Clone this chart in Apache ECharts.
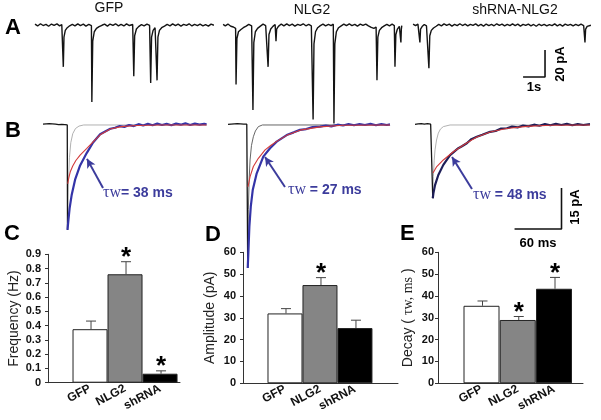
<!DOCTYPE html>
<html><head><meta charset="utf-8">
<script src="https://cdn.jsdelivr.net/npm/echarts@6.0.0/dist/echarts.min.js"></script>
<style>html,body{margin:0;padding:0;background:#fff}#c{width:601px;height:420px}</style>
</head><body><div id="c"></div>
<script>
// ---------- DATA ----------
// Panel A: spontaneous current traces, [time (s), current (pA)]
const aTitles = ['GFP', 'NLG2', 'shRNA-NLG2'];
const traceGFP = [[0.00,0.6],[0.12,-0.7],[0.25,0.9],[0.37,-0.4],[0.50,0.5],[0.62,-0.9],[0.75,0.7],[0.87,-0.3],[1.00,0.8],[1.12,-0.6],[1.22,0.3],
 [1.27,-0.8],[1.29,-31],[1.32,-9],[1.38,-4],[1.47,-2],[1.58,-0.6],[1.70,0.5],[1.82,-0.7],[1.95,0.8],[2.07,-0.4],[2.20,0.6],[2.32,-0.8],[2.45,0.4],[2.57,-0.5],
 [2.59,-57],[2.63,-12],[2.70,-5],[2.80,-2.5],[2.92,-1.2],[3.05,-0.2],[3.17,0.6],[3.30,-0.8],[3.42,0.7],[3.55,-0.3],[3.67,0.9],[3.80,-0.6],[3.92,0.5],[4.05,-0.7],[4.17,0.8],[4.30,-0.4],[4.45,0.4],
 [4.50,-38],[4.54,-8],[4.62,-3],[4.72,-1.2],[4.85,0.3],[4.97,-0.6],[5.10,0.7],[5.22,-0.3],
 [5.27,-43],[5.31,-9],[5.38,-4],[5.47,-2],[5.53,-1.5],
 [5.56,-41],[5.60,-9],[5.67,-4],[5.77,-2],[5.90,-0.8],[6.02,0.4],[6.15,-0.6],[6.27,0.8],[6.40,-0.5],[6.52,0.6],[6.65,-0.8],[6.77,0.4],[6.90,-0.3],[7.02,0.9],[7.15,-0.7],[7.27,0.5],[7.40,-0.4],[7.52,0.7],[7.65,-0.6],[7.77,0.3],[7.90,-0.8],[8.02,0.6],[8.15,-0.2]];
const traceNLG2 = [[0.05,0.5],[0.15,-0.6],[0.27,0.7],[0.40,-0.9],[0.52,-1.5],[0.62,-2.5],
 [0.64,-44],[0.68,-10],[0.75,-5],[0.85,-3.5],[0.97,-2],[1.10,-0.8],[1.22,0.5],[1.35,-0.6],
 [1.41,-63],[1.45,-13],[1.52,-5],[1.62,-2.5],[1.75,-0.8],[1.87,0.6],[1.99,-0.5],
 [2.10,-31],[2.14,-7],[2.22,-3],[2.32,-1],[2.42,0.4],
 [2.46,-12],[2.49,-3],[2.57,-1],[2.70,0.7],[2.82,-0.6],[2.95,0.8],[3.07,-0.4],[3.20,0.6],[3.32,-0.8],[3.45,0.5],[3.57,-0.3],[3.70,0.9],[3.82,-0.6],[3.95,0.4],[4.07,-0.7],
 [4.15,-70],[4.19,-14],[4.26,-5],[4.36,-2],[4.48,-0.5],[4.60,0.7],[4.72,-0.6],[4.85,0.5],[4.97,-0.4],[5.07,0.6],
 [5.10,-73],[5.14,-14],[5.21,-5],[5.31,-2],[5.43,-0.6],[5.55,0.7],[5.67,-0.5],[5.80,0.8],[5.92,-0.4],[6.05,0.5],[6.17,-0.8],[6.30,0.6],[6.42,-0.3],[6.55,0.7],[6.67,-0.6],[6.80,-1.8],[6.92,-2.5],[7.02,-1.5],
 [7.06,-41],[7.10,-9],[7.17,-4],[7.27,-2],[7.39,-0.7],[7.51,0.5],[7.63,-0.6],[7.75,0.6],[7.85,-0.4],
 [7.88,-31],[7.92,-7],[7.99,-3],[8.08,-1],[8.13,-0.3],
 [8.15,-13],[8.17,-3],[8.19,-0.5]];
const traceShRNA = [[0.05,0.6],[0.16,-0.5],[0.27,0.7],[0.34,-0.4],[0.36,-13],[0.39,-3],[0.46,-1.2],[0.56,0.4],[0.66,-0.7],[0.74,-1.6],
 [0.77,-32],[0.81,-8],[0.88,-4],[0.98,-2.2],[1.10,-0.9],[1.22,0.5],[1.34,-0.6],[1.46,0.8],[1.58,-0.3],[1.70,0.6],[1.82,-0.8],[1.94,0.4],[2.06,-0.5],[2.18,0.9],[2.30,-0.4],[2.42,0.6],[2.54,-0.7],[2.66,0.5],[2.78,-0.3],[2.90,0.8],[3.02,-0.6],[3.14,0.4],[3.26,-0.8],[3.38,0.7],[3.50,-0.4],[3.62,0.5],[3.74,-0.6],[3.86,0.9],[3.98,-0.3],[4.10,0.6],[4.22,-0.7],[4.34,0.4],[4.46,-0.5],[4.58,0.8],[4.70,-0.4],[4.82,0.6],[4.94,-0.8],[5.06,0.5],[5.18,-0.3],[5.30,0.7],[5.42,-0.6],[5.54,0.4],[5.66,-0.9],[5.78,0.6],[5.90,-0.4],[6.02,0.5],[6.14,-0.7],[6.26,0.3],[6.38,-0.5],[6.50,0.8],[6.62,-0.6],[6.74,0.4],[6.86,-0.8],[6.98,0.6],[7.10,-0.3],[7.22,0.5],[7.34,-0.7],[7.46,0.4],[7.58,-0.5],[7.70,0.6],[7.82,-0.4],[7.86,0.2],
 [7.88,-13],[7.91,-3],[7.98,-1],[8.06,0.3],[8.15,-0.2]];
const scaleA = [1, 20];          // 1 s, 20 pA

// Panel B: averaged events, [time (ms), current (pA)]
const tauText = ['τw= 38 ms', 'τw = 27 ms', 'τw = 48 ms'];
const preGFP = [[0,0.3],[2,-0.3],[4,0.4],[6,-0.1],[8,0.5],[10,0],[12,0.4],[14,-0.2],[16,0.3],[18,0.6],[20,0.1],[22,0.5],[24,0.2],[26,0.6],[28,0.1],[30,0.3],[31,0],[31.3,-38.4]];
const avgGFP = [[31.3,-38.4],[32.4,-35],[34,-30.5],[36.7,-25.5],[41,-20],[47.4,-14.8],[56,-10.2],[64,-6.4],[73,-3.4],[80,-2.3],[86,-1.4],[92,-1.0],[98,-0.4],[104,-0.7],[110,0],[116,-0.4],[122,0.3],[128,-0.2],[134,0.4],[140,-0.1],[146,0.5],[152,0],[158,0.4],[164,-0.1],[170,0.5],[176,0.1],[182,0.6],[188,0],[194,0.5],[200,0.1],[206,0.4],[209,0.2]];
const fitGFP = [[31.6,-21.5],[33,-19.3],[35,-17],[38,-15],[42,-13],[47.4,-11],[56,-8.6],[64,-6.2],[73,-3.6],[86,-1.5],[100,-0.6],[120,-0.2],[150,0],[209,0]];
const fastGFP = [[31.3,-38],[31.8,-30],[32.6,-20],[33.8,-12],[35.5,-6.5],[38,-3.2],[41.5,-1.3],[46,-0.4],[52,0],[209,0]];
const preNLG2 = [[0,0.2],[2,-0.2],[4,0.3],[6,-0.1],[8,0.4],[10,0.1],[12,0.5],[14,0],[16,0.4],[18,-0.1],[20,0.3],[22,0.1],[24,0.3],[25,0],[25.2,-52.3]];
const avgNLG2 = [[25.2,-52.3],[26,-46.8],[27.3,-37.2],[29.1,-29.9],[31.6,-23.8],[36.7,-17.7],[45.1,-11.6],[53.7,-8.5],[62.2,-6.1],[75,-3.7],[84,-2.7],[92,-1.8],[100,-1.5],[108,-0.8],[117.6,-0.6],[125,-0.2],[132,-0.5],[140,0.1],[147,-0.2],[154,0.3],[161,-0.1],[168,0.3],[175,0],[182,0.4],[189,-0.1],[196,0.3],[203,0],[207,0.2]];
const fitNLG2 = [[25.6,-22.6],[28.2,-18.9],[32.4,-15.2],[38.8,-12.2],[47.4,-9.1],[55,-7.4],[62.2,-6],[75,-3.8],[92,-1.9],[117.6,-0.7],[147,-0.1],[207,0]];
const fastNLG2 = [[25.2,-50],[26,-31],[27,-20],[28.2,-12.8],[30,-7.5],[32.4,-4.3],[35,-2.2],[38.8,-0.6],[44,0],[207,0]];
const preShRNA = [[0,0.2],[2,-0.3],[4,0.4],[6,0],[8,0.5],[10,-0.1],[12,0.3],[14,0.1],[16,0.5],[18,-0.1],[20,0.3],[22,0],[22.7,-26.8]];
const avgShRNA = [[22.7,-26.8],[23.5,-25],[25.6,-22],[29.8,-18.3],[36.2,-14.6],[44.8,-11],[55.4,-8.5],[60,-7.8],[66.2,-6.7],[72,-5.2],[79,-4.3],[86,-3.6],[96,-2.5],[103,-2.2],[110,-1.3],[117.4,-1.2],[124,-0.6],[131,-0.9],[138,-0.2],[145,-0.5],[152,0.1],[159,-0.3],[166,0.3],[173,-0.1],[180,0.4],[187,0],[194,0.4],[201,-0.1],[208,0.3],[215,0],[223.6,0.3]];
const fitShRNA = [[23,-17.6],[23.5,-17.1],[27.8,-15.2],[36.2,-12.8],[49,-9.8],[66,-6.6],[79,-4.4],[96,-2.6],[117,-1.3],[143,-0.5],[173,-0.1],[223.6,0]];
const fastShRNA = [[22.7,-26],[23.5,-18.9],[24.5,-13],[25.6,-9.1],[27.5,-5.5],[29.8,-3],[32.5,-1.5],[36.2,-0.6],[44.8,0],[223.6,0]];
const scaleB = [60, 15];         // 60 ms, 15 pA

// Panels C-E: bar charts
const barCats = ['GFP', 'NLG2', 'shRNA'];
const freqMean = [0.375, 0.76, 0.063];
const freqErr  = [0.057, 0.088, 0.02];
const ampMean  = [32, 45, 25.3];
const ampErr   = [2.2, 3.4, 3.6];
const decayMean = [35.5, 29, 43.3];
const decayErr  = [2.2, 1.6, 5.2];
const freqStar  = [false, true, true];
const ampStar   = [false, true, false];
const decayStar = [false, true, true];
const freqTicks = ['0','0.1','0.2','0.3','0.4','0.5','0.6','0.7','0.8','0.9'];
const ampTicks = ['0','10','20','30','40','50','60'];
const decayTicks = ['0','10','20','30','40','50','60'];

// ---------- CHART ----------
const SANS = '"Liberation Sans", Arial, sans-serif';
const SERIF = '"Liberation Serif", "Times New Roman", serif';
const chart = echarts.init(document.getElementById('c'), null, {renderer: 'canvas', width: 601, height: 420});

const grids = [], xAxes = [], yAxes = [], series = [];
function hiddenGrid(left, top, width, height, xr, yr) {
  const i = grids.length;
  grids.push({left, top, width, height});
  xAxes.push({gridIndex: i, type: 'value', min: xr[0], max: xr[1], show: false});
  yAxes.push({gridIndex: i, type: 'value', min: yr[0], max: yr[1], show: false});
  return i;
}
function line(gi, data, color, width, extra) {
  return Object.assign({type: 'line', xAxisIndex: gi, yAxisIndex: gi, data, showSymbol: false, symbol: 'none',
    lineStyle: {color, width}, silent: true, animation: false, z: 2}, extra || {});
}

// Panel A
const aTraces = [traceGFP, traceNLG2, traceShRNA];
const aLefts = [35, 222, 412];
let lastA = 0;
aTraces.forEach((tr, k) => {
  const gi = hiddenGrid(aLefts[k], 11.5, 180, 121.5, [0, 8.2], [-80, 10]);
  series.push(line(gi, tr, '#141414', 1.4));
  lastA = gi;
});
const sbAx = 6.06, sbAy = -38.5;
series.push(line(lastA, [[sbAx - scaleA[0], sbAy], [sbAx, sbAy], [sbAx, sbAy + scaleA[1]]], '#111', 1.6));

// Panel B
const bLefts = [43, 228, 415];
const bSets = [
  {pre: preGFP, avg: avgGFP, fit: fitGFP, fast: fastGFP, avgColor: '#3434a8', fastColor: '#a8a8a8', arrow: [[76.7, -23.05], [56.2, -12.4]]},
  {pre: preNLG2, avg: avgNLG2, fit: fitNLG2, fast: fastNLG2, avgColor: '#3434a8', fastColor: '#555', arrow: [[72.8, -22.7], [47.3, -11.7]]},
  {pre: preShRNA, avg: avgShRNA, fit: fitShRNA, fast: fastShRNA, avgColor: '#1e1e58', fastColor: '#a8a8a8', arrow: [[72.8, -23.4], [47.3, -11.7]]}
];
let lastB = 0;
bSets.forEach((s, k) => {
  const gi = hiddenGrid(bLefts[k], 111.3, 180, 177.7, [0, 230], [-60, 5]);
  series.push(line(gi, s.fast, s.fastColor, 0.9));
  series.push(line(gi, s.pre, '#151515', 1.3));
  series.push(line(gi, s.avg, s.avgColor, 2.2, {z: 3}));
  series.push(line(gi, s.fit, '#d23a3a', 1.1, {z: 4, markLine: {
    silent: true, animation: false, symbol: ['none', 'arrow'], symbolSize: [7, 9],
    lineStyle: {color: '#3c3c9c', width: 2, type: 'solid'}, label: {show: false},
    data: [[{coord: s.arrow[0]}, {coord: s.arrow[1]}]]
  }}));
  lastB = gi;
});
const sbBx = 187.2, sbBy = -38.05;
series.push(line(lastB, [[sbBx - scaleB[0], sbBy], [sbBx, sbBy], [sbBx, sbBy + scaleB[1]]], '#111', 1.6));

// Panels C-E
const panels = [
  {left: 48, width: 132, xmax: 2.57, ymax: 0.9, interval: 0.1, ticks: freqTicks, mean: freqMean, err: freqErr, star: freqStar,
   name: 'Frequency (Hz)', nameGap: 27, margin: 7, barW: 35, top: 254.3, bottom: 382.7},
  {left: 243, width: 155, xmax: 3.23, ymax: 60, interval: 10, ticks: ampTicks, mean: ampMean, err: ampErr, star: ampStar,
   name: 'Amplitude (pA)', nameGap: 26, margin: 7, barW: 35, top: 252.3, bottom: 383.3},
  {left: 438, width: 145, xmax: 2.8, ymax: 60, interval: 10, ticks: decayTicks, mean: decayMean, err: decayErr, star: decayStar,
   name: '{a|Decay ( }{b|τw, ms}{a| )}', nameGap: 23, margin: 4, barW: 36, top: 252.3, bottom: 383.3}
];
const fills = ['#ffffff', '#858585', '#000000'];
panels.forEach((p) => {
  const gi = grids.length;
  grids.push({left: p.left, top: p.top, width: p.width, height: p.bottom - p.top});
  xAxes.push({gridIndex: gi, type: 'value', min: -1.2, max: p.xmax,
    axisLine: {show: true, onZero: false, lineStyle: {color: '#333', width: 1}},
    axisTick: {show: false}, splitLine: {show: false},
    axisLabel: {customValues: [0, 1, 2], formatter: (v) => barCats[Math.round(v)] || '', rotate: 28,
      fontWeight: 'bold', fontSize: 12, color: '#111', fontFamily: SANS, margin: 5}});
  yAxes.push({gridIndex: gi, type: 'value', min: 0, max: p.ymax, interval: p.interval,
    axisLine: {show: true, onZero: false, lineStyle: {color: '#333', width: 1}},
    axisTick: {show: true, length: 3, lineStyle: {color: '#333'}}, splitLine: {show: false},
    axisLabel: {formatter: (v) => p.ticks[Math.round(v / p.interval)] || '', fontWeight: 'bold', fontSize: 11,
      color: '#111', fontFamily: SANS, margin: p.margin},
    name: p.name, nameLocation: 'middle', nameGap: p.nameGap, nameRotate: 90,
    nameTextStyle: {fontSize: 14, color: '#222', fontFamily: SANS,
      rich: {a: {fontSize: 14, color: '#222', fontFamily: SANS}, b: {fontSize: 14, color: '#222', fontFamily: SERIF}}}});
  series.push({type: 'bar', xAxisIndex: gi, yAxisIndex: gi, barWidth: p.barW, animation: false, silent: true, z: 2,
    data: p.mean.map((m, i) => ({value: [i, m], itemStyle: {color: fills[i], borderColor: '#222', borderWidth: 1}}))});
  p.mean.forEach((m, i) => {
    series.push({type: 'custom', xAxisIndex: gi, yAxisIndex: gi, animation: false, silent: true, z: 5, clip: false,
      data: [[i, m, p.err[i], p.star[i] ? 1 : 0]],
      renderItem: (params, api) => {
        const x = api.value(0), mv = api.value(1), e = api.value(2), s = api.value(3);
        const b = api.coord([x, mv]), t = api.coord([x, mv + e]);
        const ch = [{type: 'polyline', shape: {points: [[b[0] + 1, b[1]], [t[0] + 1, t[1]]]}, style: {stroke: '#444', lineWidth: 1, fill: null}},
                    {type: 'polyline', shape: {points: [[t[0] - 4, t[1]], [t[0] + 6, t[1]]]}, style: {stroke: '#444', lineWidth: 1, fill: null}}];
        if (s) ch.push({type: 'text', x: t[0] + 1, y: t[1] + 9, style: {text: '*', font: 'bold 26px ' + SANS, fill: '#000', align: 'center', verticalAlign: 'bottom'}});
        return {type: 'group', children: ch};
      }});
  });
});

// Text annotations
const gText = [];
function txt(x, y, text, font, opts) {
  gText.push(Object.assign({type: 'text', x, y, silent: true, z: 10,
    style: Object.assign({text, font, fill: '#000', textAlign: 'left', textVerticalAlign: 'middle'}, (opts && opts.style) || {})},
    opts && opts.rotation ? {rotation: opts.rotation} : {}));
}
const LF = 'bold 22px ' + SANS;
txt(5, 28, 'A', LF); txt(5, 131, 'B', LF); txt(4, 234, 'C', LF); txt(205, 235, 'D', LF); txt(400, 234, 'E', LF);
const titleX = [109, 312, 515];
aTitles.forEach((t, k) => txt(titleX[k], k === 0 ? 8 : 10, t, '14px ' + SANS, {style: {textAlign: 'center', fill: '#111'}}));
txt(534, 87, '1s', 'bold 13px ' + SANS, {style: {textAlign: 'center'}});
txt(560, 64, '20 pA', 'bold 13px ' + SANS, {rotation: Math.PI / 2, style: {textAlign: 'center'}});
txt(538, 243, '60 ms', 'bold 13px ' + SANS, {style: {textAlign: 'center'}});
txt(575, 207, '15 pA', 'bold 13px ' + SANS, {rotation: Math.PI / 2, style: {textAlign: 'center'}});
const tauPos = [[103, 193], [288, 190], [473, 195]];
tauText.forEach((t, k) => {
  const parts = t.split('w');
  gText.push({type: 'text', x: tauPos[k][0], y: tauPos[k][1], silent: true, z: 10,
    style: {text: '{s|' + parts[0] + 'w}{b|' + parts[1] + '}', textAlign: 'left', textVerticalAlign: 'middle',
      rich: {s: {font: '16px ' + SERIF, fill: '#3c3c9c'}, b: {font: 'bold 14px ' + SANS, fill: '#3c3c9c'}}}});
});

chart.setOption({
  animation: false,
  backgroundColor: '#ffffff',
  grid: grids, xAxis: xAxes, yAxis: yAxes, series: series,
  graphic: gText
});
</script></body></html>
